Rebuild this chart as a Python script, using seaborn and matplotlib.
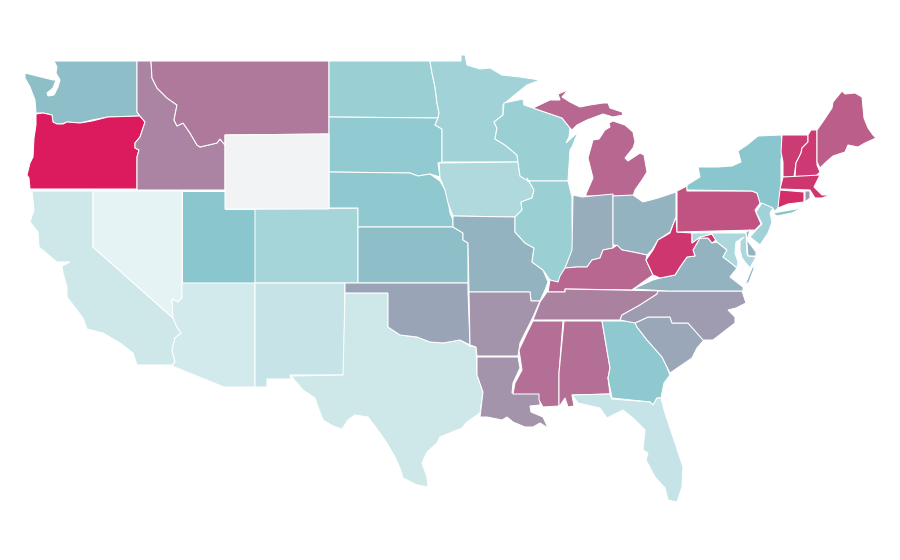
import matplotlib
matplotlib.use("Agg")
import matplotlib.pyplot as plt
import seaborn as sns
from matplotlib.colors import Normalize

# state names and the estimated rate read off the fill colour
states = ["WA", "OR", "ID", "MT", "CA", "NV", "UT", "CO", "AZ", "NM", "TX", "ND", "SD", "NE", "KS", "OK",
          "MN", "IA", "MO", "AR", "LA", "WI", "IL", "MI", "IN", "OH", "KY", "TN", "MS", "AL", "GA", "FL",
          "SC", "NC", "VA", "WV", "PA", "NY", "NJ", "DE", "MD", "VT", "NH", "ME", "MA", "CT", "RI"]
values = [43, 100, 63, 67, 10, 0, 40, 28, 8, 14, 10, 33, 37, 38, 43, 52,
          30, 24, 47, 58, 58, 33, 33, 73, 49, 47, 73, 64, 70, 70, 38, 14,
          51, 55, 47, 90, 80, 40, 30, 47, 25, 88, 89, 76, 90, 93, 57]

# Wyoming has no data
no_data = {"WY": [[(225, 135), (329, 134), (329, 209), (225, 209)]]}
no_data_color = "#f2f3f5"

outlines = {
    "WA": [[(54, 61), (137, 61), (137, 112), (140, 116), (108, 117), (92, 120), (80, 123), (67, 122), (62, 124),
            (55, 124), (52, 120), (52, 115), (43, 113), (36, 113), (35, 100), (30, 87), (25, 78), (25, 73),
            (33, 75), (45, 78), (53, 80), (56, 80), (53, 88), (47, 93), (48, 96), (54, 95), (58, 87), (60, 80),
            (56, 73), (57, 67)]],
    "OR": [[(36, 114), (43, 113), (52, 115), (53, 122), (57, 124), (63, 124), (67, 122), (80, 123), (92, 121),
            (108, 117), (140, 116), (145, 122), (143, 128), (140, 137), (135, 143), (135, 148), (139, 150),
            (137, 157), (137, 189), (30, 189), (29, 178), (27, 175), (30, 163), (33, 157), (34, 138), (36, 125)]],
    "ID": [[(137, 61), (151, 61), (152, 78), (157, 88), (167, 98), (177, 105), (174, 120), (177, 126), (183, 123),
            (190, 133), (197, 145), (200, 147), (217, 143), (220, 139), (225, 145), (225, 190), (137, 190),
            (137, 157), (139, 150), (135, 148), (135, 143), (140, 137), (145, 122), (140, 116), (137, 112)]],
    "MT": [[(151, 61), (329, 61), (329, 134), (225, 135), (225, 145), (220, 139), (217, 143), (200, 147), (197, 145),
            (190, 133), (183, 123), (177, 126), (174, 120), (177, 105), (167, 98), (157, 88), (152, 78)]],
    "CA": [[(32, 191), (93, 191), (93, 247), (173, 318), (177, 327), (181, 333), (175, 338), (172, 350), (175, 362),
            (172, 365), (137, 365), (133, 353), (120, 343), (103, 333), (87, 329), (83, 318), (67, 297), (67, 287),
            (63, 273), (62, 266), (70, 262), (57, 262), (39, 247), (38, 232), (30, 222), (34, 210)]],
    "NV": [[(93, 191), (182, 191), (182, 298), (178, 302), (172, 299), (173, 318), (93, 247)]],
    "UT": [[(182, 191), (225, 191), (225, 209), (255, 209), (255, 283), (182, 283)]],
    "CO": [[(255, 209), (358, 208), (358, 283), (255, 283)]],
    "AZ": [[(182, 283), (255, 283), (255, 387), (224, 387), (172, 366), (175, 362), (172, 350), (175, 338), (181, 333),
            (177, 327), (173, 318), (172, 299), (178, 302), (182, 298)]],
    "NM": [[(255, 283), (345, 283), (344, 375), (290, 375), (291, 379), (267, 379), (267, 387), (255, 387)]],
    "TX": [[(345, 293), (388, 293), (388, 327), (400, 335), (417, 337), (430, 342), (443, 343), (460, 340), (470, 346),
            (476, 347), (477, 375), (483, 392), (480, 413), (467, 422), (462, 428), (440, 437), (437, 443), (427, 452),
            (422, 463), (427, 477), (428, 487), (417, 485), (403, 478), (400, 468), (395, 457), (388, 445), (380, 433),
            (368, 417), (355, 415), (348, 420), (342, 429), (333, 426), (323, 420), (318, 407), (315, 398), (303, 390),
            (291, 376), (343, 375)]],
    "ND": [[(329, 61), (430, 61), (432, 73), (435, 87), (437, 103), (439, 113), (438, 118), (329, 117)]],
    "SD": [[(329, 117), (438, 118), (435, 125), (442, 129), (442, 162), (438, 163), (440, 177), (430, 174), (418, 176),
            (410, 173), (329, 172)]],
    "NE": [[(329, 172), (410, 173), (418, 176), (430, 174), (440, 181), (447, 193), (450, 213), (453, 220), (453, 227),
            (358, 227), (358, 208), (329, 208)]],
    "KS": [[(358, 227), (453, 227), (463, 233), (463, 240), (468, 243), (468, 283), (358, 283)]],
    "OK": [[(345, 283), (468, 283), (468, 292), (470, 345), (460, 340), (443, 343), (430, 342), (417, 337), (400, 335),
            (388, 327), (388, 293), (345, 293)]],
    "MN": [[(430, 61), (461, 61), (461, 55), (465, 55), (467, 65), (480, 69), (490, 68), (502, 75), (520, 77), (540, 80),
            (527, 85), (517, 93), (505, 103), (503, 105), (503, 115), (494, 122), (497, 128), (495, 139), (505, 145),
            (517, 155), (518, 162), (442, 162), (442, 129), (435, 125), (438, 118), (439, 113), (437, 103), (435, 87),
            (432, 73)]],
    "IA": [[(439, 163), (518, 162), (520, 176), (527, 178), (534, 190), (532, 198), (521, 202), (522, 210), (515, 217),
            (453, 216), (448, 203), (445, 190), (440, 178)]],
    "MO": [[(453, 216), (515, 217), (515, 232), (525, 243), (534, 248), (532, 262), (543, 270), (548, 282), (545, 290),
            (540, 301), (531, 301), (530, 292), (469, 292), (468, 243), (463, 240), (463, 233), (453, 227)]],
    "AR": [[(469, 292), (530, 292), (531, 301), (540, 301), (533, 317), (528, 327), (520, 343), (518, 356), (477, 356),
            (476, 347), (470, 345)]],
    "LA": [[(477, 357), (518, 357), (520, 368), (513, 383), (512, 393), (540, 393), (540, 405), (530, 406), (531, 412),
            (543, 417), (548, 428), (540, 423), (533, 427), (525, 427), (513, 422), (507, 417), (502, 420), (487, 417),
            (480, 417), (483, 392), (477, 375)]],
    "WI": [[(504, 103), (523, 99), (524, 105), (533, 108), (562, 118), (570, 128), (569, 137), (566, 143), (578, 132),
            (572, 147), (570, 150), (568, 181), (528, 181), (520, 176), (518, 162), (517, 155), (505, 145), (495, 139),
            (497, 128), (494, 122), (503, 115)]],
    "IL": [[(528, 181), (568, 181), (572, 197), (572, 220), (573, 250), (567, 263), (563, 277), (557, 282), (550, 280),
            (543, 270), (532, 262), (534, 248), (525, 243), (515, 232), (515, 217), (522, 210), (521, 202), (532, 198),
            (534, 190), (527, 178)]],
    "MI": [[(586, 194), (593, 178), (588, 158), (593, 140), (599, 139), (605, 130), (610, 127), (609, 123), (613, 121),
            (625, 125), (633, 132), (635, 142), (633, 148), (625, 158), (628, 161), (640, 153), (644, 155), (647, 172),
            (642, 180), (635, 190), (633, 196), (586, 196)],
           [(533, 108), (550, 100), (560, 100), (558, 94), (568, 90), (562, 97), (570, 102), (580, 107), (590, 105),
            (603, 103), (608, 103), (610, 108), (622, 112), (623, 115), (613, 117), (603, 114), (587, 120), (577, 125),
            (572, 130), (570, 128), (562, 118)]],
    "IN": [[(573, 195), (582, 197), (613, 194), (613, 248), (603, 250), (600, 258), (592, 260), (587, 267), (577, 267),
            (565, 268), (572, 250)]],
    "OH": [[(613, 196), (633, 195), (643, 202), (658, 198), (676, 192), (676, 217), (670, 232), (658, 240), (652, 250),
            (647, 255), (633, 252), (622, 250), (615, 245), (613, 245)]],
    "KY": [[(548, 292), (550, 280), (558, 282), (560, 276), (565, 268), (577, 267), (587, 267), (592, 260), (600, 258),
            (603, 250), (613, 248), (617, 245), (622, 250), (633, 252), (647, 255), (646, 260), (653, 275), (643, 282),
            (632, 290), (565, 289), (565, 292)]],
    "TN": [[(547, 292), (565, 292), (565, 289), (667, 291), (658, 291), (657, 294), (640, 305), (622, 315), (620, 320),
            (533, 320), (540, 302)]],
    "MS": [[(533, 321), (563, 321), (559, 373), (559, 406), (543, 407), (539, 400), (539, 394), (513, 394), (515, 383),
            (522, 370), (519, 350), (527, 333)]],
    "AL": [[(564, 321), (602, 321), (610, 368), (608, 378), (610, 394), (572, 395), (574, 406), (568, 407), (565, 398),
            (559, 407), (559, 373)]],
    "GA": [[(602, 321), (636, 321), (637, 327), (647, 340), (662, 357), (666, 365), (670, 375), (664, 383), (661, 398),
            (657, 398), (653, 405), (650, 402), (612, 398), (608, 378), (610, 368)]],
    "FL": [[(572, 395), (610, 394), (612, 399), (650, 402), (653, 405), (657, 398), (661, 398), (665, 413), (673, 437),
            (683, 467), (682, 487), (677, 502), (668, 500), (665, 488), (655, 477), (646, 460), (648, 453), (643, 450),
            (645, 430), (633, 418), (623, 410), (607, 418), (600, 408), (578, 403)]],
    "SC": [[(635, 323), (648, 317), (670, 317), (672, 323), (688, 323), (704, 340), (697, 348), (692, 358), (670, 373),
            (666, 365), (662, 357), (647, 340), (637, 327)]],
    "NC": [[(658, 291), (742, 291), (746, 303), (736, 308), (728, 310), (735, 317), (735, 323), (713, 340), (703, 340),
            (688, 323), (672, 323), (670, 317), (648, 317), (635, 323), (620, 320), (622, 315), (640, 305), (657, 294)]],
    "VA": [[(633, 289), (653, 280), (660, 278), (675, 275), (680, 267), (687, 257), (695, 256), (693, 250), (700, 238),
            (708, 238), (712, 243), (717, 242), (727, 250), (723, 257), (731, 263), (737, 268), (730, 277), (743, 287),
            (743, 291), (667, 291)],
           [(752, 268), (755, 266), (749, 282), (745, 285)]],
    "WV": [[(676, 217), (677, 232), (692, 233), (692, 243), (700, 237), (708, 235), (712, 234), (716, 240), (712, 243),
            (708, 238), (700, 238), (693, 250), (695, 256), (687, 257), (680, 267), (675, 275), (660, 278), (653, 275),
            (646, 260), (653, 250), (658, 240), (670, 233)]],
    "PA": [[(677, 191), (687, 186), (687, 191), (752, 191), (757, 193), (761, 202), (755, 210), (761, 224), (755, 230),
            (677, 232)]],
    "NY": [[(687, 190), (687, 185), (700, 177), (698, 167), (718, 167), (732, 166), (741, 162), (738, 151), (747, 145),
            (758, 136), (781, 135), (783, 147), (781, 160), (781, 187), (779, 207), (775, 211), (772, 208), (760, 203),
            (757, 193), (752, 191)],
           [(773, 213), (802, 208), (792, 213), (777, 216)]],
    "NJ": [[(762, 203), (773, 208), (770, 213), (772, 222), (768, 233), (760, 245), (750, 237), (758, 228), (762, 224),
            (756, 212)]],
    "DE": [[(746, 232), (750, 230), (747, 240), (756, 252), (756, 256), (748, 256)]],
    "MD": [[(692, 233), (746, 233), (747, 254), (748, 256), (756, 257), (750, 268), (745, 262), (742, 258), (740, 250),
            (740, 241), (744, 237), (736, 242), (735, 253), (738, 262), (737, 268), (731, 263), (723, 257), (727, 250),
            (717, 242), (712, 234), (708, 235), (700, 237), (692, 243)]],
    "VT": [[(782, 135), (808, 135), (808, 142), (802, 148), (801, 153), (796, 163), (794, 177), (783, 177), (783, 162),
            (781, 152)]],
    "NH": [[(811, 130), (817, 130), (817, 165), (820, 172), (815, 177), (795, 177), (796, 163), (801, 153), (802, 148),
            (808, 142), (808, 135)]],
    "ME": [[(817, 130), (822, 123), (832, 108), (833, 102), (842, 91), (845, 94), (855, 93), (862, 97), (864, 118),
            (868, 128), (873, 135), (876, 138), (865, 143), (858, 147), (848, 145), (845, 152), (833, 156), (825, 163),
            (820, 168), (817, 162)]],
    "MA": [[(783, 177), (820, 175), (814, 187), (822, 195), (830, 195), (822, 198), (815, 198), (810, 190), (780, 189)]],
    "CT": [[(780, 190), (804, 192), (804, 202), (788, 204), (778, 208), (779, 198)]],
    "RI": [[(805, 191), (810, 191), (810, 198), (805, 202)]],
}

sns.set_theme(style="white")

# teal to crimson ramp, the blues-greys in the middle come from the mix
ramp = sns.blend_palette(["#e5f3f4", "#8ac7cd", "#dc1a5e"], n_colors=256, as_cmap=True)
# the middle stop sits at 40, so stretch the low half
def color_for(value):
    if value <= 40:
        return ramp(Normalize(0, 40)(value) * 0.5)
    return ramp(0.5 + Normalize(40, 100)(value) * 0.5)


fig = plt.figure(figsize=(9, 5.6), dpi=100)
ax = fig.add_axes([0, 0, 1, 1])

for state, value in zip(states, values):
    for ring in outlines[state]:
        xs, ys = zip(*ring)
        ax.fill(xs, ys, facecolor=color_for(value), edgecolor="white", linewidth=0.75)

for ring in no_data["WY"]:
    xs, ys = zip(*ring)
    ax.fill(xs, ys, facecolor=no_data_color, edgecolor="white", linewidth=0.75)

ax.set_xlim(0, 900)
ax.set_ylim(560, 0)
ax.axis("off")
fig.savefig("out.png", dpi=100, facecolor="white")
